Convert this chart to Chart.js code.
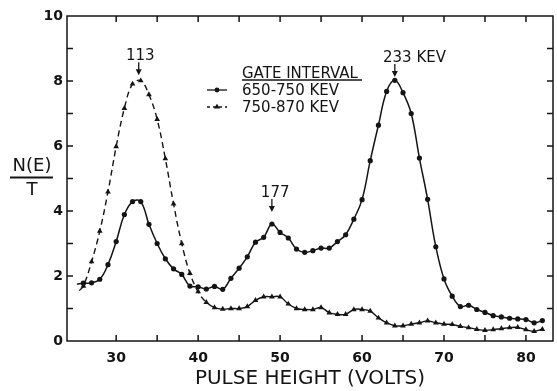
<!DOCTYPE html>
<html>
<head>
<meta charset="utf-8">
<script src="https://cdn.jsdelivr.net/npm/chart.js@4.4.0/dist/chart.umd.min.js"></script>
<style>
  body { margin: 0; background: #fff; }
</style>
</head>
<body>
<canvas id="myChart" width="557" height="391"></canvas>
<script>
// pulse height in volts, one reading per volt
const volts = [26,27,28,29,30,31,32,33,34,35,36,37,38,39,40,41,42,43,44,45,
  46,47,48,49,50,51,52,53,54,55,56,57,58,59,60,61,62,63,64,65,
  66,67,68,69,70,71,72,73,74,75,76,77,78,79,80,81,82];

// gate interval 650-750 KEV (dots, solid curve)
const gate650 = [1.78,1.79,1.90,2.35,3.06,3.89,4.29,4.29,3.59,3.00,
  2.53,2.22,2.05,1.69,1.67,1.60,1.68,1.59,1.93,2.24,
  2.59,3.04,3.19,3.60,3.34,3.17,2.83,2.73,2.78,2.86,
  2.86,3.06,3.27,3.75,4.35,5.55,6.64,7.68,8.02,7.64,
  7.00,5.63,4.36,2.90,1.91,1.38,1.06,1.10,0.97,0.88,
  0.78,0.74,0.70,0.68,0.66,0.56,0.63];

// gate interval 750-870 KEV (triangles, dashed curve)
const gate750 = [1.69,2.44,3.38,4.59,5.98,7.16,7.91,8.01,7.58,6.82,
  5.61,4.22,3.00,2.08,1.52,1.19,1.03,0.98,1.00,1.00,
  1.06,1.25,1.36,1.36,1.36,1.14,1.00,0.97,0.97,1.03,
  0.87,0.82,0.82,0.97,0.97,0.92,0.71,0.56,0.47,0.47,
  0.52,0.56,0.62,0.56,0.52,0.51,0.45,0.41,0.36,0.33,
  0.35,0.38,0.41,0.42,0.35,0.30,0.36];

// where the hand drawn curves start, left of the first reading
const start650 = [25.2, 1.75];
const start750 = [25.5, 1.55];

const xLabels = [30, 40, 50, 60, 70, 80];
const yLabels = [0, 2, 4, 6, 8, 10];

// peak markers: label, where the text sits, where the arrow points
const peaks = [
  { label: '113', textX: 32.95, arrowX: 32.75, tipY: 8.18 },
  { label: '177', textX: 49.4, arrowX: 49.0, tipY: 3.97 },
  { label: '233 KEV', textX: 66.4, arrowX: 64.0, tipY: 8.12 }
];

const ink = '#141414';
const font = 'DejaVu Sans';

const toPoints = (start, ys) => [{ x: start[0], y: start[1] }].concat(volts.map((v, i) => ({ x: v, y: ys[i] })));

function triangle(ctx, cx, cy, r) {
  const h = r * 1.5;
  ctx.beginPath();
  ctx.moveTo(cx, cy - h * 2 / 3);
  ctx.lineTo(cx + r * 0.95, cy + h / 3);
  ctx.lineTo(cx - r * 0.95, cy + h / 3);
  ctx.closePath();
  ctx.fill();
}

const paper = {
  id: 'paper',
  afterDraw(chart) {
    const { ctx, chartArea: a } = chart;
    const x = chart.scales.x, y = chart.scales.y;
    ctx.save();
    ctx.strokeStyle = ink;
    ctx.fillStyle = ink;

    // frame and inward ticks
    ctx.lineWidth = 1.5;
    ctx.strokeRect(a.left, a.top, a.right - a.left, a.bottom - a.top);
    ctx.beginPath();
    for (let v = 30; v <= 80; v += 5) {
      const px = x.getPixelForValue(v);
      ctx.moveTo(px, a.bottom); ctx.lineTo(px, a.bottom - 6);
      ctx.moveTo(px, a.top); ctx.lineTo(px, a.top + 6);
    }
    for (let v = 1; v < 10; v++) {
      const py = y.getPixelForValue(v);
      ctx.moveTo(a.left, py); ctx.lineTo(a.left + 6, py);
      ctx.moveTo(a.right, py); ctx.lineTo(a.right - 6, py);
    }
    ctx.stroke();

    // y title as a fraction
    ctx.textAlign = 'center';
    ctx.textBaseline = 'alphabetic';
    ctx.font = '18px "' + font + '"';
    ctx.fillText('N(E)', 32, 171);
    ctx.fillText('T', 32, 195);
    ctx.lineWidth = 2;
    ctx.beginPath();
    ctx.moveTo(10, 177.5); ctx.lineTo(53, 177.5);
    ctx.stroke();

    // peak labels with arrows
    ctx.font = '15px "' + font + '"';
    ctx.lineWidth = 1.3;
    peaks.forEach(p => {
      const ax = x.getPixelForValue(p.arrowX);
      const tip = y.getPixelForValue(p.tipY);
      ctx.fillText(p.label, x.getPixelForValue(p.textX), tip - 15);
      ctx.beginPath();
      ctx.moveTo(ax, tip - 13); ctx.lineTo(ax, tip - 4);
      ctx.stroke();
      ctx.beginPath();
      ctx.moveTo(ax - 3, tip - 6); ctx.lineTo(ax + 3, tip - 6); ctx.lineTo(ax, tip);
      ctx.closePath();
      ctx.fill();
    });

    // legend
    ctx.textAlign = 'left';
    ctx.font = '15px "' + font + '"';
    ctx.fillText('GATE INTERVAL', 242, 78);
    ctx.lineWidth = 1.5;
    ctx.beginPath();
    ctx.moveTo(242, 80); ctx.lineTo(362, 80);
    ctx.stroke();
    const sets = chart.data.datasets;
    ctx.fillText(sets[0].label, 242, 95);
    ctx.fillText(sets[1].label, 242, 112);
    ctx.lineWidth = 1.3;
    ctx.beginPath();
    ctx.moveTo(207, 90); ctx.lineTo(227, 90);
    ctx.stroke();
    ctx.beginPath();
    ctx.arc(217, 90, 2.4, 0, Math.PI * 2);
    ctx.fill();
    ctx.setLineDash([3, 3]);
    ctx.beginPath();
    ctx.moveTo(207, 107); ctx.lineTo(227, 107);
    ctx.stroke();
    ctx.setLineDash([]);
    triangle(ctx, 217, 107, 3.2);
    ctx.restore();
  }
};

const ctx = document.getElementById('myChart').getContext('2d');
new Chart(ctx, {
  type: 'line',
  data: {
    datasets: [{
      label: '650-750 KEV',
      data: toPoints(start650, gate650),
      borderColor: ink,
      backgroundColor: ink,
      borderWidth: 1.5,
      pointStyle: 'circle',
      pointRadius: c => c.dataIndex === 0 ? 0 : 2.6,
      pointBorderWidth: 0,
      tension: 0.4,
      fill: false
    }, {
      label: '750-870 KEV',
      data: toPoints(start750, gate750),
      borderColor: ink,
      backgroundColor: ink,
      borderWidth: 1.4,
      pointStyle: 'triangle',
      pointRadius: c => c.dataIndex === 0 ? 0 : 3.3,
      pointBorderWidth: 0,
      tension: 0.4,
      fill: false,
      segment: {
        borderDash: c => c.p0.parsed.x < 41 ? [6, 4] : undefined
      }
    }]
  },
  options: {
    responsive: false,
    animation: false,
    layout: { padding: { top: 16, right: 1, left: 0, bottom: 0 } },
    plugins: { legend: { display: false }, tooltip: { enabled: false } },
    scales: {
      x: {
        type: 'linear',
        min: 24,
        max: 83.3,
        grid: { display: false, drawTicks: false },
        border: { display: false },
        afterBuildTicks: s => { s.ticks = xLabels.map(v => ({ value: v })); },
        afterFit: s => { s.height = 50; },
        ticks: {
          padding: 9, color: ink, autoSkip: false, maxRotation: 0,
          font: { family: font, size: 14, weight: 'bold' }
        },
        title: {
          display: true, text: 'PULSE HEIGHT (VOLTS)', color: ink,
          padding: { top: 0, bottom: 0 },
          font: { family: font, size: 20, lineHeight: 1.2 }
        }
      },
      y: {
        min: 0,
        max: 10,
        grid: { display: false, drawTicks: false },
        border: { display: false },
        afterBuildTicks: s => { s.ticks = yLabels.map(v => ({ value: v })); },
        afterFit: s => { s.width = 67; },
        ticks: {
          padding: 4, color: ink,
          font: { family: font, size: 14, weight: 'bold' }
        }
      }
    }
  },
  plugins: [paper]
});
</script>
</body>
</html>
